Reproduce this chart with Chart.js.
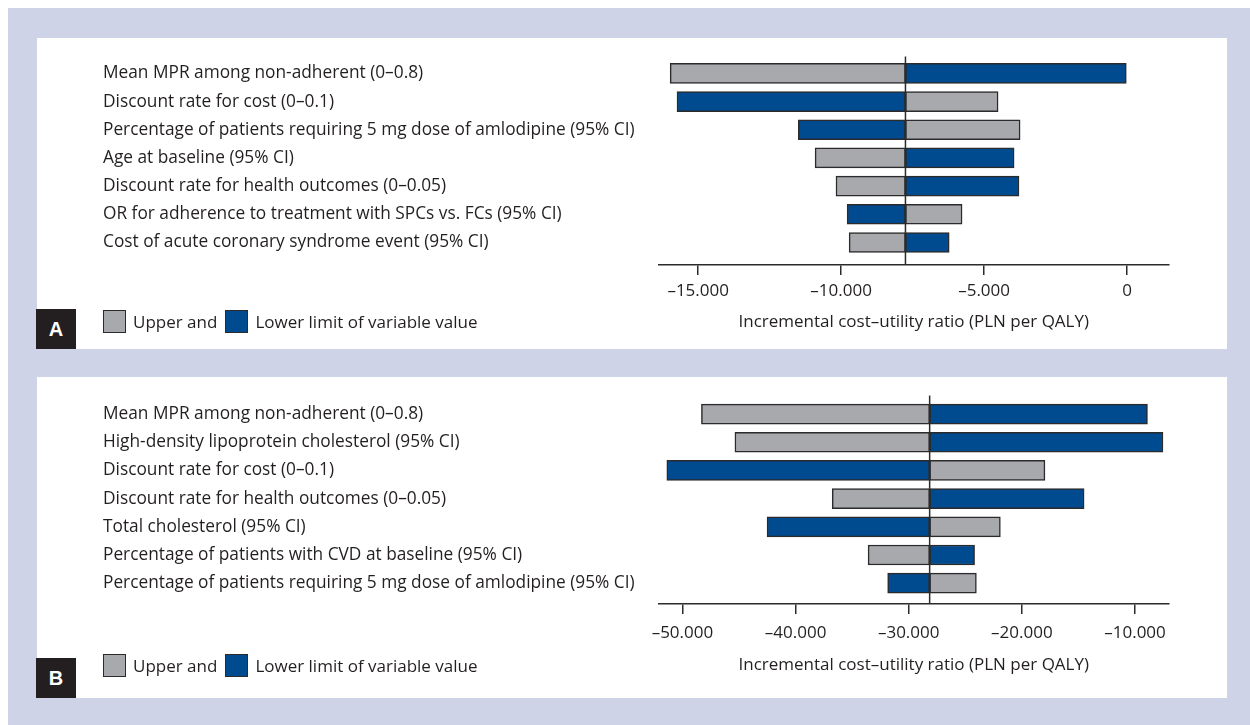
<!DOCTYPE html>
<html>
<head>
<meta charset="utf-8">
<title>Tornado diagrams – incremental cost–utility ratio</title>
<script src="https://cdn.jsdelivr.net/npm/chart.js@4.4.1/dist/chart.umd.min.js"></script>
<style>
  html, body { margin: 0; padding: 0; background: #ffffff; }
  body { width: 1250px; height: 725px; position: relative; overflow: hidden;
         font-family: "Open Sans", "Noto Sans", sans-serif; color: #231f20; }
  #frame { position: absolute; left: 8px; top: 8px; right: 0; bottom: 0; background: #ced3e7; }
  .panel { position: absolute; left: 37px; width: 1190px; background: #ffffff; }
  .panel canvas { position: absolute; left: 0; top: 0; }
  .tag { position: absolute; left: -1px; bottom: 0; width: 40px; height: 40px; background: #231f20;
         color: #ffffff; font: bold 20px "Liberation Sans", Arial, sans-serif;
         display: flex; align-items: center; justify-content: center; }
  .legend { position: absolute; left: 66px; height: 24px; display: flex; align-items: center;
            font-size: 17px; color: #231f20; white-space: nowrap; }
  .legend .sw { width: 21px; height: 21px; border: 1px solid #2b2b2b; margin-right: 7px; }
  .legend .tx { margin-right: 8px; }
</style>
</head>
<body>
<div id="frame"></div>

<div class="panel" id="panelA" style="top:38px;height:311px;">
  <canvas id="chartA" width="1190" height="311"></canvas>
  <div class="legend" id="legendA" style="top:271px;"></div>
  <div class="tag">A</div>
</div>

<div class="panel" id="panelB" style="top:377px;height:321px;">
  <canvas id="chartB" width="1190" height="321"></canvas>
  <div class="legend" id="legendB" style="top:276px;"></div>
  <div class="tag">B</div>
</div>

<script>
// ---- Panel A: parameters and ICUR at upper / lower limits (PLN per QALY)
const categoriesA = [
  "Mean MPR among non-adherent (0–0.8)",
  "Discount rate for cost (0–0.1)",
  "Percentage of patients requiring 5 mg dose of amlodipine (95% CI)",
  "Age at baseline (95% CI)",
  "Discount rate for health outcomes (0–0.05)",
  "OR for adherence to treatment with SPCs vs. FCs (95% CI)",
  "Cost of acute coronary syndrome event (95% CI)"
];
const upperA = [-15980, -4510, -3740, -10910, -10180, -5770, -9720];
const lowerA = [0, -15740, -11500, -3950, -3780, -9790, -6220];
const baseA = -7750;
const ticksA = [-15000, -10000, -5000, 0];

// ---- Panel B
const categoriesB = [
  "Mean MPR among non-adherent (0–0.8)",
  "High-density lipoprotein cholesterol (95% CI)",
  "Discount rate for cost (0–0.1)",
  "Discount rate for health outcomes (0–0.05)",
  "Total cholesterol (95% CI)",
  "Percentage of patients with CVD at baseline (95% CI)",
  "Percentage of patients requiring 5 mg dose of amlodipine (95% CI)"
];
const upperB = [-48320, -45360, -17960, -36760, -21900, -33590, -24020];
const lowerB = [-8900, -7530, -51380, -14500, -42520, -24180, -31860];
const baseB = -28150;
const ticksB = [-50000, -40000, -30000, -20000, -10000];

const legendLabels = ["Upper and", "Lower limit of variable value"];
const axisTitle = "Incremental cost–utility ratio (PLN per QALY)";

// ---- styling
const GRAY = "#a7a9ac";
const BLUE = "#004a8f";
const EDGE = "#2b2b2b";
const TEXT = "#231f20";
const FONT = { family: '"Open Sans", "Noto Sans", sans-serif', size: 17 };
const LABEL_FONT = { family: '"Open Sans", "Noto Sans", sans-serif', size: 17.3 };

// thousands with a dot, negatives with an en dash
function fmt(v) {
  const s = Math.abs(v).toString().replace(/\B(?=(\d{3})+(?!\d))/g, ".");
  return v < 0 ? "\u2013" + s : s;
}

// vertical reference line at the base-case ICUR
const baseLine = {
  id: "baseLine",
  afterDatasetsDraw(chart, args, opts) {
    const { ctx, chartArea, scales } = chart;
    const px = scales.x.getPixelForValue(opts.value);
    ctx.save();
    ctx.strokeStyle = EDGE;
    ctx.lineWidth = 1.5;
    ctx.beginPath();
    ctx.moveTo(px, chartArea.top);
    ctx.lineTo(px, chartArea.bottom);
    ctx.stroke();
    ctx.restore();
  }
};

function tornado(canvasId, legendId, cats, upper, lower, base, tickVals, range, cfg) {
  const toBars = vals => vals.map((v, i) => ({ x: [base, v], y: i }));
  const barStyle = { borderColor: EDGE, borderWidth: 1.5, borderSkipped: false,
                     barThickness: 20, grouped: false };
  const chart = new Chart(document.getElementById(canvasId), {
    type: "bar",
    data: {
      datasets: [
        Object.assign({ label: legendLabels[0], data: toBars(upper), backgroundColor: GRAY }, barStyle),
        Object.assign({ label: legendLabels[1], data: toBars(lower), backgroundColor: BLUE }, barStyle)
      ]
    },
    options: {
      indexAxis: "y",
      responsive: false,
      animation: false,
      layout: { padding: { left: 66, right: 58.5, top: 18.5, bottom: 0 } },
      plugins: {
        legend: { display: false },
        tooltip: { enabled: false },
        baseLine: { value: base }
      },
      scales: {
        x: {
          type: "linear",
          position: "bottom",
          min: range[0],
          max: range[1],
          afterBuildTicks: s => { s.ticks = tickVals.map(v => ({ value: v })); },
          afterFit: s => { s.height = cfg.axisHeight; },
          grid: { drawOnChartArea: false, drawTicks: true, tickLength: 10, color: EDGE, lineWidth: 1.5 },
          border: { display: true, color: EDGE, width: 1.5 },
          ticks: { font: FONT, color: TEXT, padding: cfg.tickPad, maxRotation: 0, autoSkip: false,
                   callback: v => fmt(v) },
          title: { display: true, text: axisTitle, font: FONT, color: TEXT,
                   padding: { top: 0, bottom: cfg.titlePad } }
        },
        y: {
          type: "linear",
          reverse: true,
          offset: false,
          min: cfg.rowSpan[0],
          max: cfg.rowSpan[1],
          afterBuildTicks: s => { s.ticks = cats.map((c, i) => ({ value: i })); },
          afterFit: s => { s.width = 556; },
          grid: { display: false, offset: false },
          border: { display: false },
          ticks: { font: LABEL_FONT, color: TEXT, crossAlign: "far", padding: 0, autoSkip: false,
                   callback: v => cats[v] }
        }
      }
    },
    plugins: [baseLine]
  });

  // legend swatches built from the datasets
  const el = document.getElementById(legendId);
  chart.data.datasets.forEach(ds => {
    const sw = document.createElement("span");
    sw.className = "sw";
    sw.style.background = ds.backgroundColor;
    const tx = document.createElement("span");
    tx.className = "tx";
    tx.textContent = ds.label;
    el.append(sw, tx);
  });
  return chart;
}

tornado("chartA", "legendA", categoriesA, upperA, lowerA, baseA, ticksA, [-16370, 1450],
        { axisHeight: 84, titlePad: 16.8, tickPad: 6, rowSpan: [-0.6, 6.8] });
tornado("chartB", "legendB", categoriesB, upperB, lowerB, baseB, ticksB, [-52070, -7040],
        { axisHeight: 94, titlePad: 22.8, tickPad: 9, rowSpan: [-0.66, 6.74] });
</script>
</body>
</html>
